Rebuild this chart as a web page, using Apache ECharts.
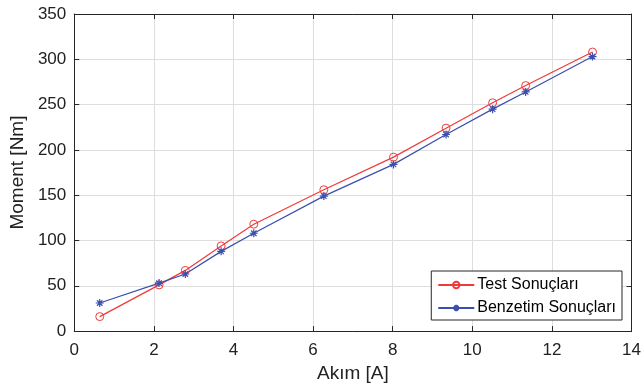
<!DOCTYPE html>
<html>
<head>
<meta charset="utf-8">
<script src="https://cdn.jsdelivr.net/npm/echarts@6/dist/echarts.min.js"></script>
<style>html,body{margin:0;padding:0;background:#fff}#c{width:644px;height:388px}</style>
</head>
<body>
<div id="c"></div>
<script>
const current = [0.64, 2.13, 2.79, 3.69, 4.51, 6.27, 8.02, 9.34, 10.51, 11.34, 13.02];
const testTorque = [16, 51, 67, 94, 118, 156, 192, 224, 252, 271, 308];
const simTorque = [31, 53, 63, 88, 108, 149, 184, 217, 245, 264, 303];
const seriesNames = ['Test Sonuçları', 'Benzetim Sonuçları'];
const xLabel = 'Akım [A]';
const yLabel = 'Moment [Nm]';

const red = '#f03a3a';
const blue = '#3a4fae';
const font = '"Liberation Sans", Arial, sans-serif';
const asterisk = 'path://M5,0L5,10M0,5L10,5M1.6,1.6L8.4,8.4M1.6,8.4L8.4,1.6';

const chart = echarts.init(document.getElementById('c'), null, {renderer: 'canvas'});
const frame = {show: true, onZero: false, lineStyle: {color: '#262626', width: 1}};
const tick = {show: true, inside: true, length: 5, lineStyle: {color: '#262626'}};
const grid = {show: true, lineStyle: {color: '#dedede', width: 1}};
chart.setOption({
  animation: false,
  backgroundColor: '#fff',
  grid: {left: 72, right: 12, top: 14, bottom: 55},
  xAxis: [{
    type: 'value', min: 0, max: 14, interval: 2, position: 'bottom',
    axisLine: frame, axisTick: tick, splitLine: grid,
    axisLabel: {fontFamily: font, fontSize: 17, color: '#222', margin: 11},
    name: xLabel, nameLocation: 'middle', nameGap: 30,
    nameTextStyle: {fontFamily: font, fontSize: 19, color: '#222'}
  }, {
    type: 'value', min: 0, max: 14, interval: 2, position: 'top',
    axisLine: frame, axisTick: tick, splitLine: {show: false}, axisLabel: {show: false}
  }],
  yAxis: [{
    type: 'value', min: 0, max: 350, interval: 50, position: 'left',
    axisLine: frame, axisTick: tick, splitLine: grid,
    axisLabel: {fontFamily: font, fontSize: 17, color: '#222', margin: 8},
    name: yLabel, nameLocation: 'middle', nameGap: 40,
    nameTextStyle: {fontFamily: font, fontSize: 19, color: '#222'}
  }, {
    type: 'value', min: 0, max: 350, interval: 50, position: 'right',
    axisLine: frame, axisTick: tick, splitLine: {show: false}, axisLabel: {show: false}
  }],
  legend: {
    orient: 'vertical', right: 22, top: 271,
    borderColor: '#262626', borderWidth: 1, backgroundColor: '#fff',
    padding: [5, 6, 3, 6], itemGap: 5, itemWidth: 36, itemHeight: 8,
    textStyle: {fontFamily: font, fontSize: 16, color: '#000', lineHeight: 18, padding: [0, 0, 0, -2]},
    data: seriesNames
  },
  series: [{
    name: seriesNames[0], type: 'line',
    data: current.map((x, i) => [x, testTorque[i]]),
    symbol: 'circle', symbolSize: 8,
    lineStyle: {color: red, width: 1.2},
    itemStyle: {color: 'rgba(0,0,0,0)', borderColor: red, borderWidth: 1}
  }, {
    name: seriesNames[1], type: 'line',
    data: current.map((x, i) => [x, simTorque[i]]),
    symbol: asterisk, symbolSize: 8, symbolKeepAspect: true,
    lineStyle: {color: blue, width: 1.2},
    itemStyle: {color: 'rgba(0,0,0,0)', borderColor: blue, borderWidth: 1.2}
  }]
});
</script>
</body>
</html>
